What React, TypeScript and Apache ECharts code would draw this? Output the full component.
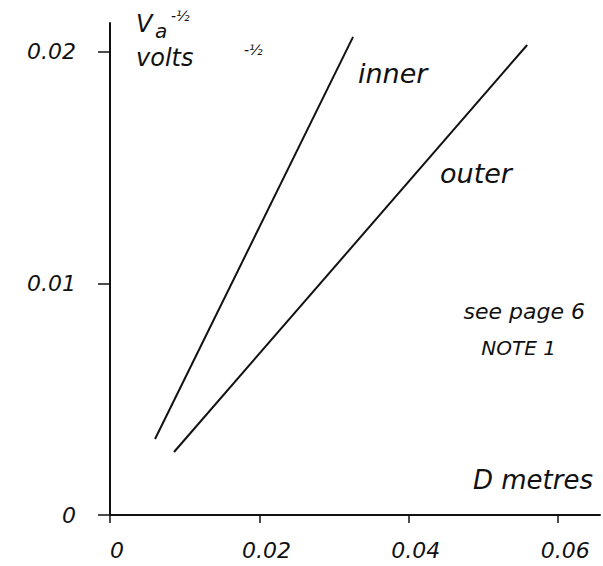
import React, { useEffect, useRef } from "react";
import * as echarts from "echarts";

const xTicks = [0, 0.02, 0.04, 0.06];
const yTicks = [0, 0.01, 0.02];
const innerLine: [number, number][] = [
  [0.00603, 0.00328],
  [0.03254, 0.02065],
];
const outerLine: [number, number][] = [
  [0.00857, 0.00272],
  [0.05585, 0.0203],
];
const seriesNames = ["inner", "outer"];
const fmt = (v: number) => (v === 0 ? "0" : v.toFixed(2));

const FONT = "DejaVu Sans";
const INK = "#111";

export default function App() {
  const ref = useRef<HTMLDivElement>(null);
  useEffect(() => {
    if (!ref.current) return;
    document.body.style.margin = "0";
    const chart = echarts.init(ref.current, undefined, { renderer: "svg" });
    const txt = (text: string, x: number, y: number, size: number, align = "left") => ({
      type: "text",
      x,
      y,
      style: {
        text,
        fontSize: size,
        fontFamily: FONT,
        fontStyle: "italic",
        fill: INK,
        textAlign: align,
        textVerticalAlign: "middle",
      },
    });
    chart.setOption({
      animation: false,
      backgroundColor: "#fff",
      grid: { left: 110, top: 23, width: 490, height: 492 },
      xAxis: {
        type: "value",
        min: 0,
        max: 0.0656,
        splitLine: { show: false },
        axisLine: { lineStyle: { color: INK, width: 2 } },
        axisTick: { customValues: xTicks, length: 8, lineStyle: { color: INK, width: 1.5 } },
        axisLabel: {
          customValues: xTicks,
          formatter: fmt,
          margin: 24,
          padding: [0, 0, 0, 14],
          fontSize: 22,
          fontFamily: FONT,
          fontStyle: "italic",
          color: INK,
        },
      },
      yAxis: {
        type: "value",
        min: 0,
        max: 0.02125,
        splitLine: { show: false },
        axisLine: { lineStyle: { color: INK, width: 2 } },
        axisTick: { customValues: yTicks, length: 12, lineStyle: { color: INK, width: 1.5 } },
        axisLabel: {
          customValues: yTicks,
          formatter: fmt,
          margin: 34,
          fontSize: 22,
          fontFamily: FONT,
          fontStyle: "italic",
          color: INK,
        },
      },
      series: [
        {
          name: seriesNames[0],
          type: "line",
          data: innerLine,
          symbol: "none",
          clip: false,
          lineStyle: { color: INK, width: 2 },
        },
        {
          name: seriesNames[1],
          type: "line",
          data: outerLine,
          symbol: "none",
          clip: false,
          lineStyle: { color: INK, width: 2 },
        },
      ],
      graphic: [
        txt("V", 136, 24, 24),
        txt("a", 155, 31, 20),
        txt("-½", 171, 16, 14),
        txt("volts", 136, 58, 24),
        txt("-½", 244, 50, 14),
        txt(seriesNames[0], 358, 73, 27),
        txt(seriesNames[1], 440, 173, 27),
        txt("see page 6", 585, 311, 22, "right"),
        txt("NOTE 1", 556, 348, 20, "right"),
        txt("D metres", 593, 480, 26, "right"),
      ],
    });
    return () => chart.dispose();
  }, []);
  return <div ref={ref} style={{ width: 603, height: 566 }} />;
}
